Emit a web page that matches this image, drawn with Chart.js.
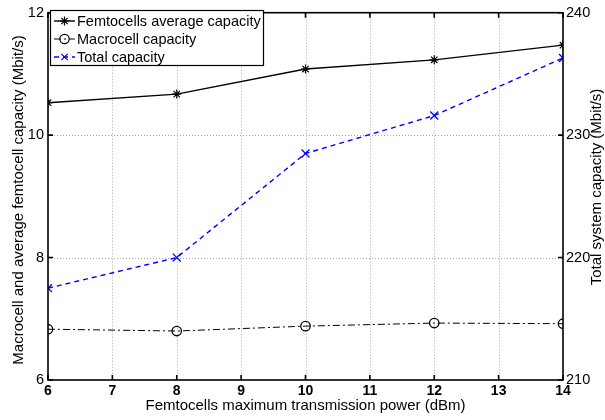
<!DOCTYPE html>
<html><head><meta charset="utf-8">
<script src="https://cdn.jsdelivr.net/npm/chart.js@4.4.0/dist/chart.umd.min.js"></script>
<style>html,body{margin:0;padding:0;background:#fff}#wrap{width:605px;height:420px}</style>
</head><body><div id="wrap"><canvas id="c" width="605" height="420"></canvas></div>
<script>
// Capacity versus femtocell maximum transmission power
const powerDbm = [6, 8, 10, 12, 14];
const femtoAvgCapacity = [10.53, 10.67, 11.08, 11.23, 11.47];
const macroCapacity = [6.83, 6.80, 6.88, 6.93, 6.92];
const totalCapacity = [217.5, 220.0, 228.5, 231.6, 236.3];
const seriesNames = ['Femtocells average capacity', 'Macrocell capacity', 'Total capacity'];
const xTitle = 'Femtocells maximum transmission power (dBm)';
const leftTitle = 'Macrocell and average femtocell capacity (Mbit/s)';
const rightTitle = 'Total system capacity (Mbit/s)';

const FONT = '"Liberation Sans", Arial, Helvetica, sans-serif';
Chart.defaults.font.family = FONT;
Chart.defaults.color = '#000';

const pts = ys => powerDbm.map((x, i) => ({x, y: ys[i]}));

function drawMarker(ctx, style, x, y, r, color) {
  ctx.save();
  ctx.strokeStyle = color; ctx.lineWidth = 1.2; ctx.setLineDash([]);
  ctx.beginPath();
  if (style === 'star') {
    ctx.moveTo(x - r, y); ctx.lineTo(x + r, y);
    ctx.moveTo(x, y - r); ctx.lineTo(x, y + r);
    const d = r * 0.707;
    ctx.moveTo(x - d, y - d); ctx.lineTo(x + d, y + d);
    ctx.moveTo(x - d, y + d); ctx.lineTo(x + d, y - d);
  } else if (style === 'circle') {
    ctx.arc(x, y, r, 0, Math.PI * 2);
  } else {
    const d = r * 0.707;
    ctx.moveTo(x - d, y - d); ctx.lineTo(x + d, y + d);
    ctx.moveTo(x - d, y + d); ctx.lineTo(x + d, y - d);
  }
  ctx.stroke();
  ctx.restore();
}

const framePlugin = {
  id: 'frame',
  beforeDraw(chart) {
    const ctx = chart.ctx;
    ctx.save(); ctx.fillStyle = '#fff'; ctx.fillRect(0, 0, chart.width, chart.height); ctx.restore();
  },
  beforeDatasetsDraw(chart) {
    const {ctx, chartArea: a, scales} = chart;
    ctx.save();
    ctx.strokeStyle = '#a8a8a8'; ctx.lineWidth = 1; ctx.setLineDash([1, 2]);
    scales.x.ticks.forEach(t => {
      if (t.value === scales.x.min || t.value === scales.x.max) return;
      const px = Math.round(scales.x.getPixelForValue(t.value)) + 0.5;
      ctx.beginPath(); ctx.moveTo(px, a.top); ctx.lineTo(px, a.bottom); ctx.stroke();
    });
    scales.y.ticks.forEach(t => {
      if (t.value === scales.y.min || t.value === scales.y.max) return;
      const py = Math.round(scales.y.getPixelForValue(t.value)) + 0.5;
      ctx.beginPath(); ctx.moveTo(a.left, py); ctx.lineTo(a.right, py); ctx.stroke();
    });
    ctx.restore();
  },
  afterDatasetsDraw(chart) {
    const {ctx, chartArea: a, scales} = chart;
    ctx.save();
    ctx.strokeStyle = '#000'; ctx.lineWidth = 1.6; ctx.setLineDash([]);
    ctx.strokeRect(a.left, a.top, a.right - a.left, a.bottom - a.top);
    const tl = 5;
    ctx.beginPath();
    scales.x.ticks.forEach(t => {
      const px = scales.x.getPixelForValue(t.value);
      ctx.moveTo(px, a.bottom); ctx.lineTo(px, a.bottom - tl);
      ctx.moveTo(px, a.top); ctx.lineTo(px, a.top + tl);
    });
    scales.y.ticks.forEach(t => {
      const py = scales.y.getPixelForValue(t.value);
      ctx.moveTo(a.left, py); ctx.lineTo(a.left + tl, py);
    });
    scales.y1.ticks.forEach(t => {
      const py = scales.y1.getPixelForValue(t.value);
      ctx.moveTo(a.right, py); ctx.lineTo(a.right - tl, py);
    });
    ctx.stroke();

    // legend box
    const lx = 50, ly = 10, lw = 213, lh = 55;
    ctx.fillStyle = '#fff';
    ctx.fillRect(lx, ly, lw, lh);
    ctx.lineWidth = 1.2;
    ctx.strokeRect(lx + 0.5, ly + 0.5, lw, lh);
    ctx.font = '14.5px ' + FONT;
    ctx.textBaseline = 'middle'; ctx.textAlign = 'left';
    chart.data.datasets.forEach((ds, i) => {
      const yy = ly + 11 + i * 18;
      ctx.save();
      ctx.strokeStyle = ds.borderColor; ctx.lineWidth = ds.borderWidth;
      ctx.setLineDash(ds.borderDash || []);
      ctx.beginPath(); ctx.moveTo(54, yy); ctx.lineTo(75, yy); ctx.stroke();
      ctx.restore();
      drawMarker(ctx, ds.pointStyle, 64.5, yy, ds.pointStyle === 'circle' ? 4.7 : 4.5, ds.borderColor);
      ctx.fillStyle = '#000';
      ctx.fillText(ds.label, 77, yy + 1);
    });

    // axis titles
    ctx.fillStyle = '#000';
    ctx.font = '15px ' + FONT;
    ctx.textAlign = 'center'; ctx.textBaseline = 'middle';
    ctx.fillText(xTitle, (a.left + a.right) / 2, 406);
    ctx.save(); ctx.translate(19, 200); ctx.rotate(-Math.PI / 2);
    ctx.fillText(leftTitle, 0, 0); ctx.restore();
    ctx.save(); ctx.translate(597, 187); ctx.rotate(-Math.PI / 2);
    ctx.fillText(rightTitle, 0, 0); ctx.restore();
    ctx.restore();
  }
};

new Chart(document.getElementById('c'), {
  type: 'line',
  data: {
    datasets: [
      { label: seriesNames[0], data: pts(femtoAvgCapacity), yAxisID: 'y',
        borderColor: '#000', borderWidth: 1.4, pointStyle: 'star', pointRadius: 4.5,
        pointBorderWidth: 1.2, pointBorderColor: '#000', pointBackgroundColor: 'rgba(0,0,0,0)' },
      { label: seriesNames[1], data: pts(macroCapacity), yAxisID: 'y',
        borderColor: '#000', borderWidth: 1, borderDash: [7, 3, 2, 3], pointStyle: 'circle', pointRadius: 4.7,
        pointBorderWidth: 1.3, pointBorderColor: '#000', pointBackgroundColor: 'rgba(0,0,0,0)' },
      { label: seriesNames[2], data: pts(totalCapacity), yAxisID: 'y1',
        borderColor: '#0000ff', borderWidth: 1.4, borderDash: [5, 4], pointStyle: 'crossRot', pointRadius: 5.6,
        pointBorderWidth: 1.3, pointBorderColor: '#0000ff', pointBackgroundColor: 'rgba(0,0,0,0)' }
    ]
  },
  options: {
    responsive: false, animation: false, devicePixelRatio: 1,
    layout: { padding: { top: 8, left: 0, right: 0, bottom: 0 } },
    plugins: { legend: { display: false }, tooltip: { enabled: false } },
    elements: { line: { tension: 0 } },
    scales: {
      x: { type: 'linear', min: 6, max: 14,
        ticks: { stepSize: 1, padding: 3, font: { size: 14, weight: 'bold' }, color: '#000', maxRotation: 0 },
        grid: { display: false, drawTicks: false }, border: { display: false },
        afterFit: s => { s.height = 40; } },
      y: { type: 'linear', position: 'left', min: 6, max: 12,
        ticks: { stepSize: 2, padding: 4, font: { size: 14.5 }, color: '#000' },
        grid: { display: false, drawTicks: false }, border: { display: false },
        afterFit: s => { s.width = 48; } },
      y1: { type: 'linear', position: 'right', min: 210, max: 240,
        ticks: { stepSize: 10, padding: 3, font: { size: 14.5 }, color: '#000' },
        grid: { display: false, drawTicks: false }, border: { display: false },
        afterFit: s => { s.width = 42; } }
    }
  },
  plugins: [framePlugin]
});
</script>
</body></html>
